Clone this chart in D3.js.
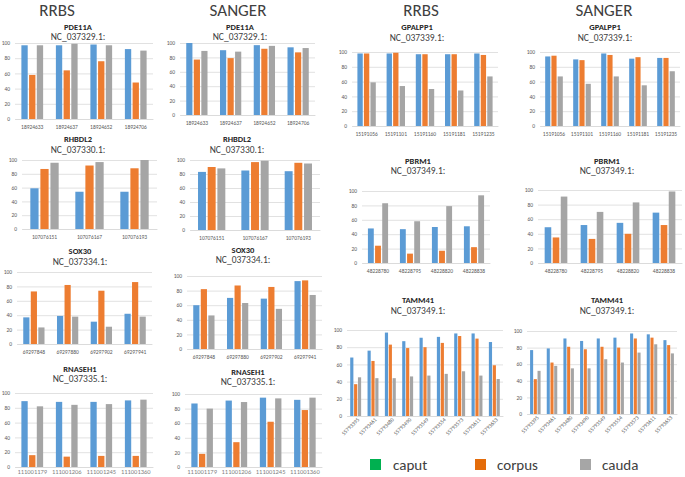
<!DOCTYPE html>
<html><head><meta charset="utf-8">
<script src="https://cdn.jsdelivr.net/npm/d3@7"></script>
<style>body{margin:0;background:#fff}svg{display:block}</style>
</head><body>
<script>
// ---------- DATA ----------
const SERIES = ["caput","corpus","cauda"];
const Y_TICKS = [0,20,40,60,80,100];

const PDE11A_POS = ["18924633","18924637","18924652","18924706"];
const PDE11A_RRBS_CAPUT = [97,97,98,92];
const PDE11A_RRBS_CORPUS = [58,64,76,48];
const PDE11A_RRBS_CAUDA = [97,99,97,90];
const PDE11A_SANGER_CAPUT = [100,90,97,94];
const PDE11A_SANGER_CORPUS = [77,79,92,87];
const PDE11A_SANGER_CAUDA = [89,88,96,93];

const RHBDL2_POS = ["107076151","107076167","107076193"];
const RHBDL2_RRBS_CAPUT = [59,54,54];
const RHBDL2_RRBS_CORPUS = [87,92,88];
const RHBDL2_RRBS_CAUDA = [96,97,100];
const RHBDL2_SANGER_CAPUT = [83,85,84];
const RHBDL2_SANGER_CORPUS = [90,97,96];
const RHBDL2_SANGER_CAUDA = [88,99,95];

const SOX30_POS = ["69297848","69297880","69297902","69297941"];
const SOX30_RRBS_CAPUT = [37,39,31,42];
const SOX30_RRBS_CORPUS = [73,82,74,86];
const SOX30_RRBS_CAUDA = [23,38,24,38];
const SOX30_SANGER_CAPUT = [60,70,69,93];
const SOX30_SANGER_CORPUS = [82,87,85,94];
const SOX30_SANGER_CAUDA = [46,63,55,74];

const RNASEH1_POS = ["111001179","111001206","111001245","111001360"];
const RNASEH1_RRBS_CAPUT = [89,88,88,90];
const RNASEH1_RRBS_CORPUS = [16,14,15,15];
const RNASEH1_RRBS_CAUDA = [82,84,85,91];
const RNASEH1_SANGER_CAPUT = [87,91,95,92];
const RNASEH1_SANGER_CORPUS = [18,34,62,78];
const RNASEH1_SANGER_CAUDA = [80,89,94,95];

const GPALPP1_POS = ["15191056","15191101","15191160","15191181","15191235"];
const GPALPP1_RRBS_CAPUT = [98,98,97,97,98];
const GPALPP1_RRBS_CORPUS = [98,99,97,97,96];
const GPALPP1_RRBS_CAUDA = [59,54,50,48,67];
const GPALPP1_SANGER_CAPUT = [94,90,98,91,92];
const GPALPP1_SANGER_CORPUS = [95,89,96,93,92];
const GPALPP1_SANGER_CAUDA = [67,57,67,55,74];

const PBRM1_POS = ["48228780","48228795","48228820","48228838"];
const PBRM1_RRBS_CAPUT = [48,47,50,51];
const PBRM1_RRBS_CORPUS = [24,13,17,22];
const PBRM1_RRBS_CAUDA = [83,58,79,94];
const PBRM1_SANGER_CAPUT = [49,52,55,69];
const PBRM1_SANGER_CORPUS = [35,33,40,52];
const PBRM1_SANGER_CAUDA = [91,70,83,98];

const TAMM41_POS = ["55793395","55793461","55793480","55793490","55793549","55793554","55793573","55793611","55793653"];
const TAMM41_RRBS_CAPUT = [68,76,97,87,91,92,96,96,86];
const TAMM41_RRBS_CORPUS = [37,64,83,79,80,85,93,90,59];
const TAMM41_RRBS_CAUDA = [45,44,44,46,47,49,52,47,43];
const TAMM41_SANGER_CAPUT = [77,79,91,88,91,92,97,96,89];
const TAMM41_SANGER_CORPUS = [42,62,81,78,81,80,91,92,83];
const TAMM41_SANGER_CAUDA = [52,58,55,55,66,62,74,84,73];

// ---------- STYLE / LAYOUT ----------
const BAR_COLORS = ["#5B9BD5","#ED7D31","#A5A5A5"];
const LEGEND_COLORS = ["#00B050","#E46C0A","#A6A6A6"];
const FONT = "Carlito, 'Liberation Sans', Arial, sans-serif";

const W = 685, H = 477;
const svg = d3.select("body").append("svg").attr("width", W).attr("height", H);

const headers = [
  {text:"RRBS", x:57, y:10},
  {text:"SANGER", x:238, y:10},
  {text:"RRBS", x:421, y:10},
  {text:"SANGER", x:604, y:10}
];
headers.forEach(h => svg.append("text").attr("x", h.x).attr("y", h.y)
  .attr("text-anchor","middle").attr("dominant-baseline","central")
  .attr("font-family", FONT).attr("font-size", 17).attr("fill","#404040").text(h.text));

const panels = [
  {gene:"PDE11A", nc:"NC_037329.1:", cats:PDE11A_POS, vals:[PDE11A_RRBS_CAPUT,PDE11A_RRBS_CORPUS,PDE11A_RRBS_CAUDA], x0:15,x1:153,yt:43,yb:119,tx:78,gy:27,ny:36.5},
  {gene:"PDE11A", nc:"NC_037329.1:", cats:PDE11A_POS, vals:[PDE11A_SANGER_CAPUT,PDE11A_SANGER_CORPUS,PDE11A_SANGER_CAUDA], x0:180,x1:315,yt:43,yb:115,tx:240,gy:27,ny:36.5},
  {gene:"RHBDL2", nc:"NC_037330.1:", cats:RHBDL2_POS, vals:[RHBDL2_RRBS_CAPUT,RHBDL2_RRBS_CORPUS,RHBDL2_RRBS_CAUDA], x0:22,x1:157,yt:160,yb:229,tx:78,gy:139,ny:150},
  {gene:"RHBDL2", nc:"NC_037330.1:", cats:RHBDL2_POS, vals:[RHBDL2_SANGER_CAPUT,RHBDL2_SANGER_CORPUS,RHBDL2_SANGER_CAUDA], x0:190,x1:320,yt:160,yb:230,tx:237,gy:139,ny:150},
  {gene:"SOX30", nc:"NC_037334.1:", cats:SOX30_POS, vals:[SOX30_RRBS_CAPUT,SOX30_RRBS_CORPUS,SOX30_RRBS_CAUDA], x0:17,x1:152,yt:272,yb:344,tx:80,gy:251,ny:262},
  {gene:"SOX30", nc:"NC_037334.1:", cats:SOX30_POS, vals:[SOX30_SANGER_CAPUT,SOX30_SANGER_CORPUS,SOX30_SANGER_CAUDA], x0:187,x1:322,yt:276,yb:349,tx:243,gy:250,ny:260},
  {gene:"RNASEH1", nc:"NC_037335.1:", cats:RNASEH1_POS, vals:[RNASEH1_RRBS_CAPUT,RNASEH1_RRBS_CORPUS,RNASEH1_RRBS_CAUDA], x0:15,x1:153,yt:393,yb:467,tx:80,gy:369,ny:379, big:true},
  {gene:"RNASEH1", nc:"NC_037335.1:", cats:RNASEH1_POS, vals:[RNASEH1_SANGER_CAPUT,RNASEH1_SANGER_CORPUS,RNASEH1_SANGER_CAUDA], x0:185,x1:322,yt:394,yb:467,tx:248,gy:372,ny:382, big:true},
  {gene:"GPALPP1", nc:"NC_037339.1:", cats:GPALPP1_POS, vals:[GPALPP1_RRBS_CAPUT,GPALPP1_RRBS_CORPUS,GPALPP1_RRBS_CAUDA], x0:352,x1:498,yt:52,yb:126,tx:417,gy:27,ny:37.5},
  {gene:"GPALPP1", nc:"NC_037339.1:", cats:GPALPP1_POS, vals:[GPALPP1_SANGER_CAPUT,GPALPP1_SANGER_CORPUS,GPALPP1_SANGER_CAUDA], x0:540,x1:680,yt:52,yb:126,tx:605,gy:27,ny:37.5},
  {gene:"PBRM1", nc:"NC_037349.1:", cats:PBRM1_POS, vals:[PBRM1_RRBS_CAPUT,PBRM1_RRBS_CORPUS,PBRM1_RRBS_CAUDA], x0:362,x1:490,yt:191,yb:263,tx:418,gy:161,ny:171},
  {gene:"PBRM1", nc:"NC_037349.1:", cats:PBRM1_POS, vals:[PBRM1_SANGER_CAPUT,PBRM1_SANGER_CORPUS,PBRM1_SANGER_CAUDA], x0:538,x1:682,yt:190,yb:263,tx:607,gy:161,ny:171},
  {gene:"TAMM41", nc:"NC_037349.1:", cats:TAMM41_POS, vals:[TAMM41_RRBS_CAPUT,TAMM41_RRBS_CORPUS,TAMM41_RRBS_CAUDA], x0:347,x1:503,yt:330,yb:416,tx:418,gy:300,ny:311, rotate:true},
  {gene:"TAMM41", nc:"NC_037349.1:", cats:TAMM41_POS, vals:[TAMM41_SANGER_CAPUT,TAMM41_SANGER_CORPUS,TAMM41_SANGER_CAUDA], x0:527,x1:677,yt:331,yb:414,tx:607,gy:300,ny:311, rotate:true}
];

panels.forEach(p => {
  const g = svg.append("g");
  // titles
  g.append("text").attr("x", p.tx).attr("y", p.gy).attr("text-anchor","middle")
    .attr("dominant-baseline","central").attr("font-family", FONT)
    .attr("font-weight","bold").attr("font-size", 8.5).attr("fill","#262626").text(p.gene);
  g.append("text").attr("x", p.tx).attr("y", p.ny).attr("text-anchor","middle")
    .attr("dominant-baseline","central").attr("font-family", FONT)
    .attr("font-size", 9.5).attr("fill","#404040").text(p.nc);

  const y = d3.scaleLinear().domain([0,100]).range([p.yb, p.yt]);
  const x = d3.scaleBand().domain(p.cats).range([p.x0, p.x1]).paddingInner(0.37).paddingOuter(0.185);
  const xs = d3.scaleBand().domain(d3.range(SERIES.length)).range([0, x.bandwidth()]).paddingInner(0.18);

  // gridlines
  const yAxis = d3.axisLeft(y).tickValues(Y_TICKS).tickSize(-(p.x1 - p.x0)).tickPadding(5);
  const ya = g.append("g").attr("transform", `translate(${p.x0},0)`).call(yAxis);
  ya.select(".domain").remove();
  ya.selectAll(".tick line").attr("stroke","#D9D9D9").attr("stroke-width",0.8);
  ya.selectAll(".tick text").attr("font-family", FONT).attr("font-size", 5.5).attr("fill","#595959");

  // bars
  SERIES.forEach((s, si) => {
    g.append("g").selectAll("rect").data(p.vals[si]).join("rect")
      .attr("x", (d,i) => x(p.cats[i]) + xs(si))
      .attr("y", d => y(d))
      .attr("width", xs.bandwidth())
      .attr("height", d => y(0) - y(d))
      .attr("fill", BAR_COLORS[si]);
  });

  // x axis
  const xAxis = d3.axisBottom(x).tickSize(0).tickPadding(p.rotate ? 4 : (p.big ? 2 : 6));
  const xa = g.append("g").attr("transform", `translate(0,${p.yb})`).call(xAxis);
  xa.select(".domain").attr("stroke","#D9D9D9").attr("stroke-width",0.8);
  const xt = xa.selectAll(".tick text").attr("font-family", FONT)
    .attr("font-size", p.big ? 6.5 : 5.5).attr("fill", p.big ? "#7F7F7F" : "#595959");
  if (p.rotate) {
    xt.attr("text-anchor","end").attr("dy","0.3em").attr("dx","0")
      .attr("transform","rotate(-45)");
  }
});

// legend
const legendItems = [
  {x:370, tx:393},
  {x:475, tx:497},
  {x:580, tx:602}
];
SERIES.forEach((s, i) => {
  svg.append("rect").attr("x", legendItems[i].x).attr("y", 459).attr("width", 11).attr("height", 11)
    .attr("fill", LEGEND_COLORS[i]);
  svg.append("text").attr("x", legendItems[i].tx).attr("y", 465).attr("dominant-baseline","central")
    .attr("font-family", FONT).attr("font-size", 15).attr("fill","#404040").text(s);
});
</script>
</body></html>
